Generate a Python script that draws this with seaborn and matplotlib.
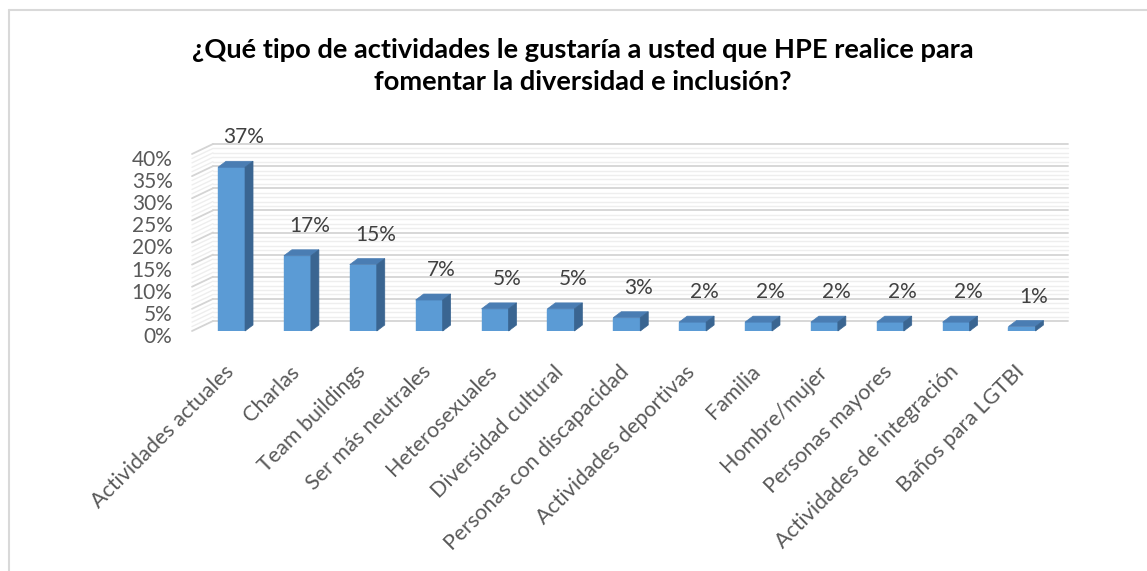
import numpy as np
import pandas as pd
import seaborn as sns
import matplotlib.pyplot as plt
from matplotlib.patches import Polygon
from matplotlib.lines import Line2D
from matplotlib.ticker import PercentFormatter
from matplotlib.transforms import ScaledTranslation

TITLE = "¿Qué tipo de actividades le gustaría a usted que HPE realice para\nfomentar la diversidad e inclusión?"

categories = [
    "Actividades actuales",
    "Charlas",
    "Team buildings",
    "Ser más neutrales",
    "Heterosexuales",
    "Diversidad cultural",
    "Personas con discapacidad",
    "Actividades deportivas",
    "Familia",
    "Hombre/mujer",
    "Personas mayores",
    "Actividades de integración",
    "Baños para LGTBI",
]
shares = [0.37, 0.17, 0.15, 0.07, 0.05, 0.05, 0.03, 0.02, 0.02, 0.02, 0.02, 0.02, 0.01]
y_ticks = [0.0, 0.05, 0.10, 0.15, 0.20, 0.25, 0.30, 0.35, 0.40]

FRONT = "#5B9BD5"
TOP = "#4A7DB3"
SIDE = "#3A6591"

W, H, DPI = 1147, 571, 100

sns.set_style("white")
plt.rcParams["font.family"] = ["Lato", "DejaVu Sans"]

fig = plt.figure(figsize=(W / DPI, H / DPI), dpi=DPI)
# axes box in pixels: front plane of the 3d chart
ax_l, ax_r, ax_b, ax_t = 192, 1047, H - 331, H - 154
ax = fig.add_axes([ax_l / W, ax_b / H, (ax_r - ax_l) / W, (ax_t - ax_b) / H])

df = pd.DataFrame({"category": categories, "share": shares})
sns.barplot(data=df, x="category", y="share", order=categories, color=FRONT,
            width=0.41, saturation=1, ax=ax, zorder=3)

xmin, xmax = -0.6, 12.38
ymin, ymax = 0.0, 0.40
ax.set_xlim(xmin, xmax)
ax.set_ylim(ymin, ymax)

px_x = (ax_r - ax_l) / (xmax - xmin)
px_y = (ax_t - ax_b) / (ymax - ymin)

# back wall + side wall grid
wdx, wdy = 21 / px_x, 10 / px_y
for lvl in np.arange(0, 41) / 100:
    major = round(lvl * 100) % 5 == 0
    col = "#D4D4D4" if major else "#EEEEEE"
    lw = 1.3 if major else 1.0
    ax.add_line(Line2D([xmin + wdx, xmax + wdx], [lvl + wdy, lvl + wdy], color=col,
                       lw=lw, zorder=1 if not major else 1.5, clip_on=False))
    ax.add_line(Line2D([xmin, xmin + wdx], [lvl, lvl + wdy], color=col,
                       lw=lw, zorder=1 if not major else 1.5, clip_on=False))

# 3d faces of the bars
bdx, bdy = 8 / px_x, 6 / px_y
for p in list(ax.patches):
    x0, w, h = p.get_x(), p.get_width(), p.get_height()
    p.set_edgecolor(FRONT)
    top = [(x0, h), (x0 + w, h), (x0 + w + bdx, h + bdy), (x0 + bdx, h + bdy)]
    side = [(x0 + w, 0), (x0 + w, h), (x0 + w + bdx, h + bdy), (x0 + w + bdx, bdy)]
    ax.add_patch(Polygon(top, closed=True, facecolor=TOP, edgecolor=TOP, lw=0.5,
                         zorder=3, clip_on=False))
    ax.add_patch(Polygon(side, closed=True, facecolor=SIDE, edgecolor=SIDE, lw=0.5,
                         zorder=3, clip_on=False))
    ax.annotate(f"{h * 100:.0f}%", (x0 + w / 2, h), xytext=(12, 30),
                textcoords="offset pixels", ha="center", va="center",
                fontsize=15, color="#404040", annotation_clip=False)

for s in ax.spines.values():
    s.set_visible(False)
ax.set_xlabel("")
ax.set_ylabel("")
ax.set_yticks(y_ticks)
ax.yaxis.set_major_formatter(PercentFormatter(1.0, decimals=0))
ax.tick_params(axis="y", length=0, pad=14, labelsize=15, labelcolor="#595959")
ax.tick_params(axis="x", length=0, pad=22, labelsize=15.5, labelcolor="#595959")
for lab in ax.get_yticklabels():
    lab.set_transform(lab.get_transform() + ScaledTranslation(0, -4 / DPI, fig.dpi_scale_trans))
for lab in ax.get_xticklabels():
    lab.set_transform(lab.get_transform() + ScaledTranslation(-8 / DPI, 0, fig.dpi_scale_trans))
plt.setp(ax.get_xticklabels(), rotation=45, ha="right", rotation_mode="anchor")

fig.text(583 / W, 1 - 66 / H, TITLE, ha="center", va="center", fontsize=19.6,
         fontweight="bold", color="#000000", linespacing=1.45)

# chart frame (only the top and left edges are in view)
fig.add_artist(Line2D([8.5 / W, 8.5 / W], [0, 1 - 9.5 / H], color="#D9D9D9", lw=1.5,
                      transform=fig.transFigure))
fig.add_artist(Line2D([8.5 / W, 1], [1 - 9.5 / H, 1 - 9.5 / H], color="#D9D9D9", lw=1.5,
                      transform=fig.transFigure))

fig.savefig("out.png", dpi=DPI, facecolor="white")
